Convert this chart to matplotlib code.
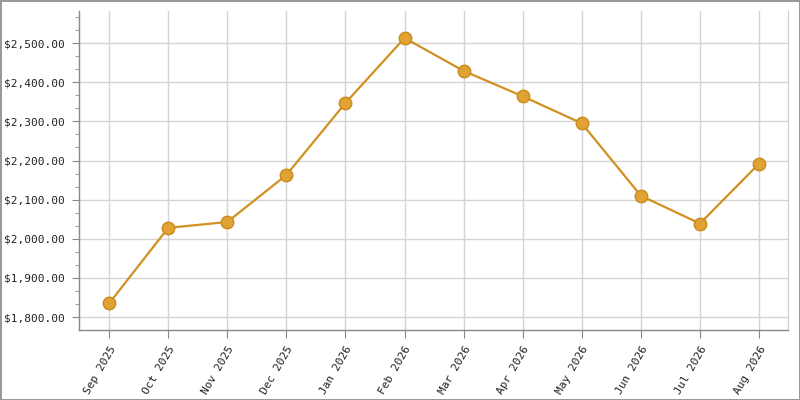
import matplotlib
matplotlib.use("Agg")
import matplotlib.pyplot as plt
from matplotlib.ticker import FuncFormatter, MultipleLocator

# data
months = ["Sep 2025", "Oct 2025", "Nov 2025", "Dec 2025", "Jan 2026", "Feb 2026",
          "Mar 2026", "Apr 2026", "May 2026", "Jun 2026", "Jul 2026", "Aug 2026"]
values = [1835, 2028, 2043, 2163, 2347, 2513, 2429, 2364, 2295, 2110, 2039, 2192]

plt.rcParams['font.family'] = ['DejaVu Sans Mono']

fig = plt.figure(figsize=(8, 4), dpi=100)
fig.patch.set_facecolor('white')
fig.patch.set_edgecolor('#999999')
fig.patch.set_linewidth(2)

ax = fig.add_axes([0.09875, 0.175, 0.88625, 0.7975])
x = list(range(len(months)))
ax.plot(x, values, color='#D1901F', linewidth=1.6, zorder=3)
ax.plot(x, values, linestyle='none', marker='o', markersize=9,
        markerfacecolor='#E0A232', markeredgecolor='#C98B1E', markeredgewidth=1, zorder=4)

ax.set_xlim(-0.51, 11.49)
ax.set_ylim(1767, 2582)
ax.set_xticks(x)
ax.set_xticklabels(months, rotation=60, ha='right', rotation_mode='anchor', fontsize=8, color='#222222')
ax.yaxis.set_major_locator(MultipleLocator(100))
ax.yaxis.set_minor_locator(MultipleLocator(100 / 3))
ax.yaxis.set_major_formatter(FuncFormatter(lambda v, p: "${:,.2f}".format(v)))
ax.tick_params(axis='y', labelsize=8, labelcolor='#222222', color='#888888', length=5, pad=5)
ax.tick_params(axis='y', which='minor', color='#888888', length=3)
ax.tick_params(axis='x', color='#888888', length=6, pad=4)

ax.grid(True, color='#d4d4d4', linewidth=1, zorder=0)
ax.set_axisbelow(True)
for s in ['left', 'bottom']:
    ax.spines[s].set_color('#888888')
    ax.spines[s].set_linewidth(1)
ax.spines['top'].set_visible(False)
ax.spines['right'].set_color('#cccccc')

fig.savefig('out.png', dpi=100, facecolor=fig.get_facecolor(), edgecolor=fig.get_edgecolor())
